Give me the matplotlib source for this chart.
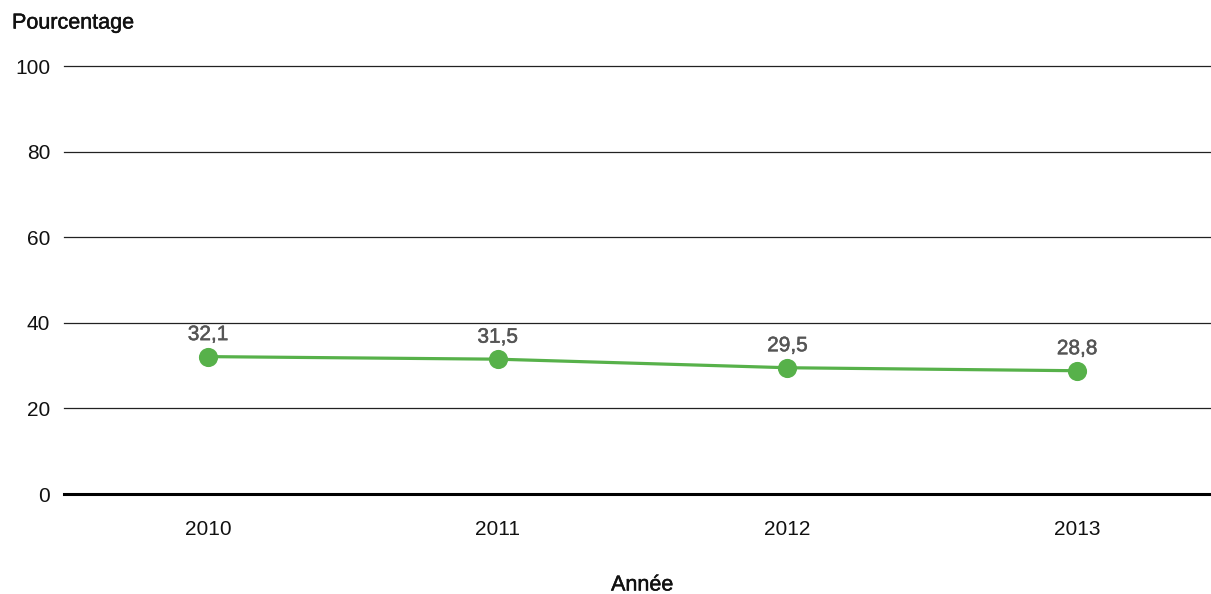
import matplotlib
matplotlib.use("Agg")
import matplotlib.pyplot as plt
import matplotlib.patheffects as pe

plt.rcParams['font.family'] = ['Liberation Sans', 'DejaVu Sans']

years = ["2010", "2011", "2012", "2013"]
values = [32.1, 31.5, 29.5, 28.8]
value_labels = ["32,1", "31,5", "29,5", "28,8"]
y_ticks = [0, 20, 40, 60, 80, 100]

W, H = 1211, 594
fig = plt.figure(figsize=(W / 100, H / 100), dpi=100)
ax = fig.add_axes([64 / W, 100 / H, (1210 - 64) / W, (494 - 66) / H])

x = list(range(len(years)))
green = "#57b14a"

# slightly heavier strokes for text
heavy = [pe.withStroke(linewidth=0.35, foreground="#111111")]
heavy_gray = [pe.withStroke(linewidth=0.35, foreground="#555555")]

# horizontal grid lines
for t in y_ticks[1:]:
    ax.axhline(t, color="#222222", lw=0.9, zorder=1, clip_on=False)
ax.axhline(0, color="black", lw=2.2, zorder=2, clip_on=False)

ax.plot(x, values, color=green, lw=2.3, marker="o", markersize=13.8,
        markeredgewidth=0, zorder=3, solid_capstyle="round")

for xi, v, lab in zip(x, values, value_labels):
    ax.annotate(lab, (xi, v), xytext=(0, 9), textcoords="offset points",
                ha="center", va="bottom", fontsize=15, color="#555555",
                path_effects=heavy_gray)

ax.set_xlim(-0.497, 3.459)
ax.set_ylim(0, 100)
ax.set_yticks(y_ticks)
ax.set_yticklabels([str(t) for t in y_ticks], fontsize=15, color="#111111")
ax.set_xticks(x)
ax.set_xticklabels(years, fontsize=15, color="#111111")
ax.tick_params(axis="y", length=0, pad=10)
ax.tick_params(axis="x", length=0, pad=19)
for s in ax.spines.values():
    s.set_visible(False)

fig.text((64 + 1210) / 2 / W + 5 / W, 1 - 585 / H, "Année", fontsize=15.5,
         color="#111111", ha="center", va="center", path_effects=heavy)
fig.text(12 / W, 1 - 23 / H, "Pourcentage", fontsize=15.5, color="#111111",
         ha="left", va="center", path_effects=heavy)

fig.savefig("out.png", dpi=100, facecolor="white")
